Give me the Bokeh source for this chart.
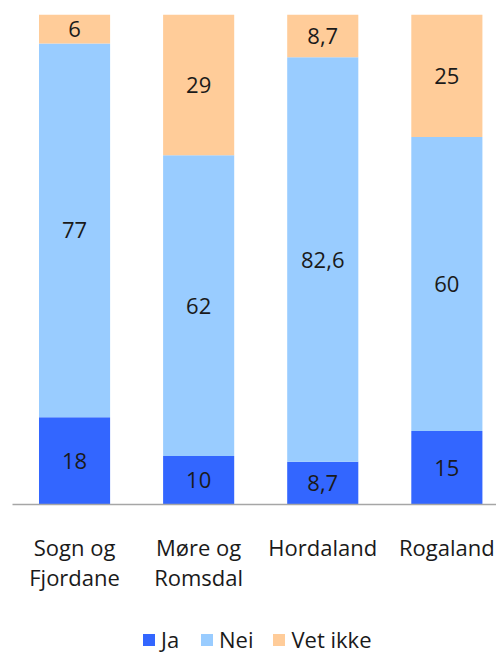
from bokeh.plotting import figure
from bokeh.layouts import column
from bokeh.models import ColumnDataSource, Range1d, FixedTicker, Legend, LegendItem
from bokeh.core.properties import value
from bokeh.embed import file_html
from bokeh.resources import INLINE

categories = ["Sogn og\nFjordane", "Møre og\nRomsdal", "Hordaland", "Rogaland"]
series_names = ["Ja", "Nei", "Vet ikke"]
ja = [18, 10, 8.7, 15]
nei = [77, 62, 82.6, 60]
vet_ikke = [6, 29, 8.7, 25]
colors = ["#3366FF", "#99CCFF", "#FFCC99"]

FONT = "Open Sans"
FS = "22px"
TXT = "#1a1a1a"

xs = list(range(len(categories)))
totals = [a + b + c for a, b, c in zip(ja, nei, vet_ikke)]
pct = {
    "Ja": [v / t * 100 for v, t in zip(ja, totals)],
    "Nei": [v / t * 100 for v, t in zip(nei, totals)],
    "Vet ikke": [v / t * 100 for v, t in zip(vet_ikke, totals)],
}
src = ColumnDataSource(dict(x=xs, **pct))

p = figure(width=496, height=610, output_backend="svg", toolbar_location=None,
           x_range=Range1d(-0.5, 3.4), y_range=Range1d(0, 100),
           min_border_left=12, min_border_right=0, min_border_top=14, min_border_bottom=106)

rs = p.vbar_stack(series_names, x="x", width=0.573, color=colors, source=src,
                  line_color=None)

def fmt(v):
    return ("%g" % v).replace(".", ",")

lx, ly, lt = [], [], []
raw = {"Ja": ja, "Nei": nei, "Vet ikke": vet_ikke}
for i in xs:
    base = 0
    for name in series_names:
        h = pct[name][i]
        lx.append(i)
        ly.append(base + h / 2)
        lt.append(fmt(raw[name][i]))
        base += h
p.text(x=lx, y=ly, text=lt, text_align="center", text_baseline="middle",
       text_font=value(FONT), text_font_size=FS, text_color=TXT)

p.yaxis.visible = False
p.xgrid.visible = False
p.ygrid.visible = False
p.outline_line_color = None

ax = p.xaxis[0]
ax.ticker = FixedTicker(ticks=xs)
ax.major_label_overrides = {i: c for i, c in zip(xs, categories)}
ax.major_tick_line_color = None
ax.minor_tick_line_color = None
ax.axis_line_color = "#A6A6A6"
ax.axis_line_width = 1.5
ax.major_label_text_font = FONT
ax.major_label_text_font_size = FS
ax.major_label_text_color = TXT
ax.major_label_text_line_height = 1.0
ax.major_label_standoff = 21

# legend panel: same stacked series, kept out of this panel's view so only the legend shows
p2 = figure(width=496, height=47, output_backend="svg", toolbar_location=None,
            x_range=Range1d(100, 101), y_range=Range1d(200, 300),
            min_border_left=0, min_border_right=0, min_border_top=0, min_border_bottom=0)
p2.axis.visible = False
p2.grid.visible = False
p2.outline_line_color = None
lr = p2.vbar_stack(series_names, x="x", width=0.573, color=colors, source=src, line_color=None)
legend = Legend(items=[LegendItem(label=n, renderers=[r]) for n, r in zip(series_names, lr)],
                orientation="horizontal", location=(129, 3),
                label_text_font=FONT, label_text_font_size=FS, label_text_color=TXT,
                label_text_line_height=1.0,
                glyph_width=15, glyph_height=15, label_height=15, label_standoff=5,
                spacing=18, padding=0, margin=0, border_line_color=None,
                background_fill_alpha=0)
p2.add_layout(legend, "center")

open("out.html", "w").write(file_html(column(p, p2), INLINE))
